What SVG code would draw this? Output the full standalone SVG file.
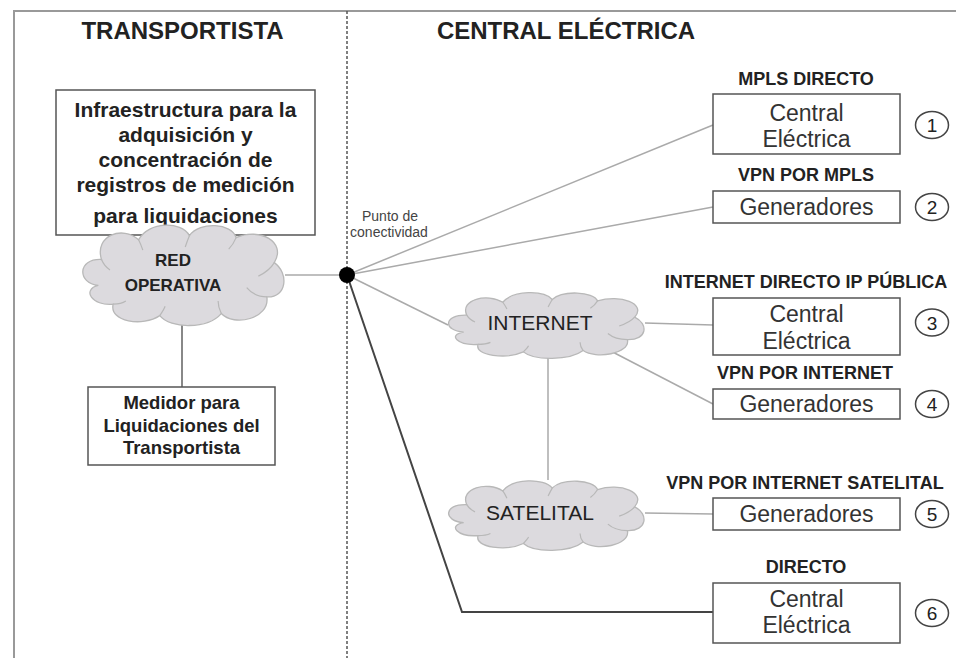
<svg xmlns="http://www.w3.org/2000/svg" xmlns:xlink="http://www.w3.org/1999/xlink" width="956" height="658" viewBox="0 0 956 658">
<style>
  text { font-family: "Liberation Sans", Arial, sans-serif; fill: #222; }
  .title { font-size: 24px; font-weight: bold; text-anchor: middle; }
  .bold { font-weight: bold; text-anchor: middle; }
  .lbl { font-size: 18px; font-weight: bold; text-anchor: middle; }
  .big { font-size: 23px; text-anchor: middle; fill: #333; }
  .num { font-size: 19px; text-anchor: middle; fill: #222; }
  .box { fill: #fff; stroke: #555; stroke-width: 1.5; }
  .circ { fill: #fff; stroke: #444; stroke-width: 1.5; }
  .thin { stroke: #aaa; stroke-width: 1.5; fill: none; }
  .mid { stroke: #888; stroke-width: 2; fill: none; }
  .dark { stroke: #444; stroke-width: 2; fill: none; }
  .cloud { fill: #dcdade; stroke: #b8b8b8; stroke-width: 1.3; }
  .inner { fill: none; stroke: #b8b8b8; stroke-width: 1.2; }
</style>
<defs>
  <path id="cloudShape" vector-effect="non-scaling-stroke" d="M 22,62 C 2,60 2,36 25,37 C 18,14 45,4 60,18 C 70,0 100,0 108,14 C 118,0 148,2 152,16 C 174,6 200,20 188,40 C 202,50 200,74 181,73 C 184,94 150,102 138,89 C 125,104 90,104 80,91 C 64,102 32,97 36,80 C 16,82 6,66 22,62 Z"/>
  <path id="cloudInner" vector-effect="non-scaling-stroke" d="M 25,37 C 27,42 30,45 33,47 M 60,18 C 62,22 63,25 64,28 M 108,14 C 106,19 105,22 104,25 M 152,16 C 150,21 148,24 145,27 M 188,40 C 184,47 179,50 173,53 M 181,73 C 173,73 166,69 162,64 M 138,89 C 136,85 135,81 135,77 M 80,91 C 82,88 84,85 85,82 M 36,80 C 41,80 45,79 48,77"/>
</defs>

<!-- frame -->
<g id="frame">
  <path d="M 14,658 L 14,11 L 956,11" fill="none" stroke="#999" stroke-width="2"/>
  <line x1="347" y1="11" x2="347" y2="658" stroke="#555" stroke-width="1.5" stroke-dasharray="3,2"/>
  <text class="title" x="182.5" y="39">TRANSPORTISTA</text>
  <text class="title" x="566" y="39">CENTRAL ELÉCTRICA</text>
</g>

<!-- connectors -->
<g id="connectors">
  <line class="thin" x1="285" y1="275" x2="347" y2="275"/>
  <line class="mid" x1="182" y1="320" x2="182" y2="387"/>
  <line class="thin" x1="347" y1="275" x2="713" y2="125"/>
  <line class="thin" x1="347" y1="275" x2="713" y2="207"/>
  <line class="thin" x1="347" y1="275" x2="448" y2="325"/>
  <polyline class="dark" points="347,275 462,612 713,612"/>
  <line class="thin" x1="645" y1="323" x2="713" y2="325"/>
  <line class="thin" x1="603" y1="347" x2="713" y2="404"/>
  <line class="thin" x1="548" y1="355" x2="548" y2="480"/>
  <line class="thin" x1="645" y1="513" x2="713" y2="514"/>
</g>

<!-- transportista -->
<g id="infraestructura">
  <rect class="box" x="56" y="90" width="259" height="145"/>
  <text class="bold" style="font-size:21px" x="185.5" y="117">Infraestructura para la</text>
  <text class="bold" style="font-size:21px" x="185.5" y="142">adquisición  y</text>
  <text class="bold" style="font-size:21px" x="185.5" y="167">concentración  de</text>
  <text class="bold" style="font-size:21px" x="185.5" y="192">registros de medición</text>
  <text class="bold" style="font-size:21px" x="185.5" y="223">para liquidaciones</text>
</g>

<g id="red-operativa">
  <use xlink:href="#cloudShape" class="cloud" transform="translate(75,221) scale(1.06,1.04)"/>
  <use xlink:href="#cloudInner" class="inner" transform="translate(75,221) scale(1.06,1.04)"/>
  <text class="bold" style="font-size:17px" x="173" y="266">RED</text>
  <text class="bold" style="font-size:17px" x="173" y="291">OPERATIVA</text>
</g>

<g id="medidor">
  <rect class="box" x="88" y="387" width="187" height="78"/>
  <text class="bold" style="font-size:18.5px" x="181.5" y="409">Medidor para</text>
  <text class="bold" style="font-size:18.5px" x="181.5" y="432">Liquidaciones del</text>
  <text class="bold" style="font-size:18.5px" x="181.5" y="454">Transportista</text>
</g>

<g id="punto">
  <circle cx="347" cy="275" r="8" fill="#000"/>
  <text x="390" y="221" style="font-size:14px;text-anchor:middle;fill:#444">Punto de</text>
  <text x="389" y="237" style="font-size:14px;text-anchor:middle;fill:#444">conectividad</text>
</g>

<!-- clouds central -->
<g id="internet">
  <use xlink:href="#cloudShape" class="cloud" transform="translate(441,290) scale(1.03,0.68)"/>
  <use xlink:href="#cloudInner" class="inner" transform="translate(441,290) scale(1.03,0.68)"/>
  <text x="540" y="329.5" style="font-size:21px;text-anchor:middle">INTERNET</text>
</g>

<g id="satelital">
  <use xlink:href="#cloudShape" class="cloud" transform="translate(441,478) scale(1.03,0.72)"/>
  <use xlink:href="#cloudInner" class="inner" transform="translate(441,478) scale(1.03,0.72)"/>
  <text x="540" y="519.5" style="font-size:21px;text-anchor:middle">SATELITAL</text>
</g>

<!-- right nodes -->
<g id="opt1">
  <text class="lbl" x="806" y="85">MPLS DIRECTO</text>
  <rect class="box" x="713" y="94" width="187" height="60"/>
  <text class="big" x="806.5" y="121">Central</text>
  <text class="big" x="806.5" y="147">Eléctrica</text>
  <ellipse class="circ" cx="932" cy="125" rx="16.5" ry="13.5"/>
  <text class="num" x="932" y="132">1</text>
</g>

<g id="opt2">
  <text class="lbl" x="806" y="181">VPN POR MPLS</text>
  <rect class="box" x="713" y="191" width="187" height="32"/>
  <text class="big" x="806.5" y="215">Generadores</text>
  <ellipse class="circ" cx="932" cy="207" rx="16.5" ry="13.5"/>
  <text class="num" x="932" y="214">2</text>
</g>

<g id="opt3">
  <text class="lbl" x="806" y="288">INTERNET DIRECTO IP PÚBLICA</text>
  <rect class="box" x="713" y="298" width="187" height="57"/>
  <text class="big" x="806.5" y="322">Central</text>
  <text class="big" x="806.5" y="349">Eléctrica</text>
  <ellipse class="circ" cx="932" cy="322.5" rx="16.5" ry="13.5"/>
  <text class="num" x="932" y="329.5">3</text>
</g>

<g id="opt4">
  <text class="lbl" x="805" y="379">VPN POR INTERNET</text>
  <rect class="box" x="713" y="389" width="187" height="30"/>
  <text class="big" x="806.5" y="412">Generadores</text>
  <ellipse class="circ" cx="932" cy="404" rx="16.5" ry="13.5"/>
  <text class="num" x="932" y="411">4</text>
</g>

<g id="opt5">
  <text class="lbl" x="805" y="489">VPN POR INTERNET SATELITAL</text>
  <rect class="box" x="713" y="498" width="187" height="32"/>
  <text class="big" x="806.5" y="522">Generadores</text>
  <ellipse class="circ" cx="932" cy="514" rx="16.5" ry="13.5"/>
  <text class="num" x="932" y="521">5</text>
</g>

<g id="opt6">
  <text class="lbl" x="806" y="573">DIRECTO</text>
  <rect class="box" x="713" y="583" width="187" height="60"/>
  <text class="big" x="806.5" y="607">Central</text>
  <text class="big" x="806.5" y="633">Eléctrica</text>
  <ellipse class="circ" cx="932" cy="613" rx="16.5" ry="13.5"/>
  <text class="num" x="932" y="620">6</text>
</g>
</svg>
